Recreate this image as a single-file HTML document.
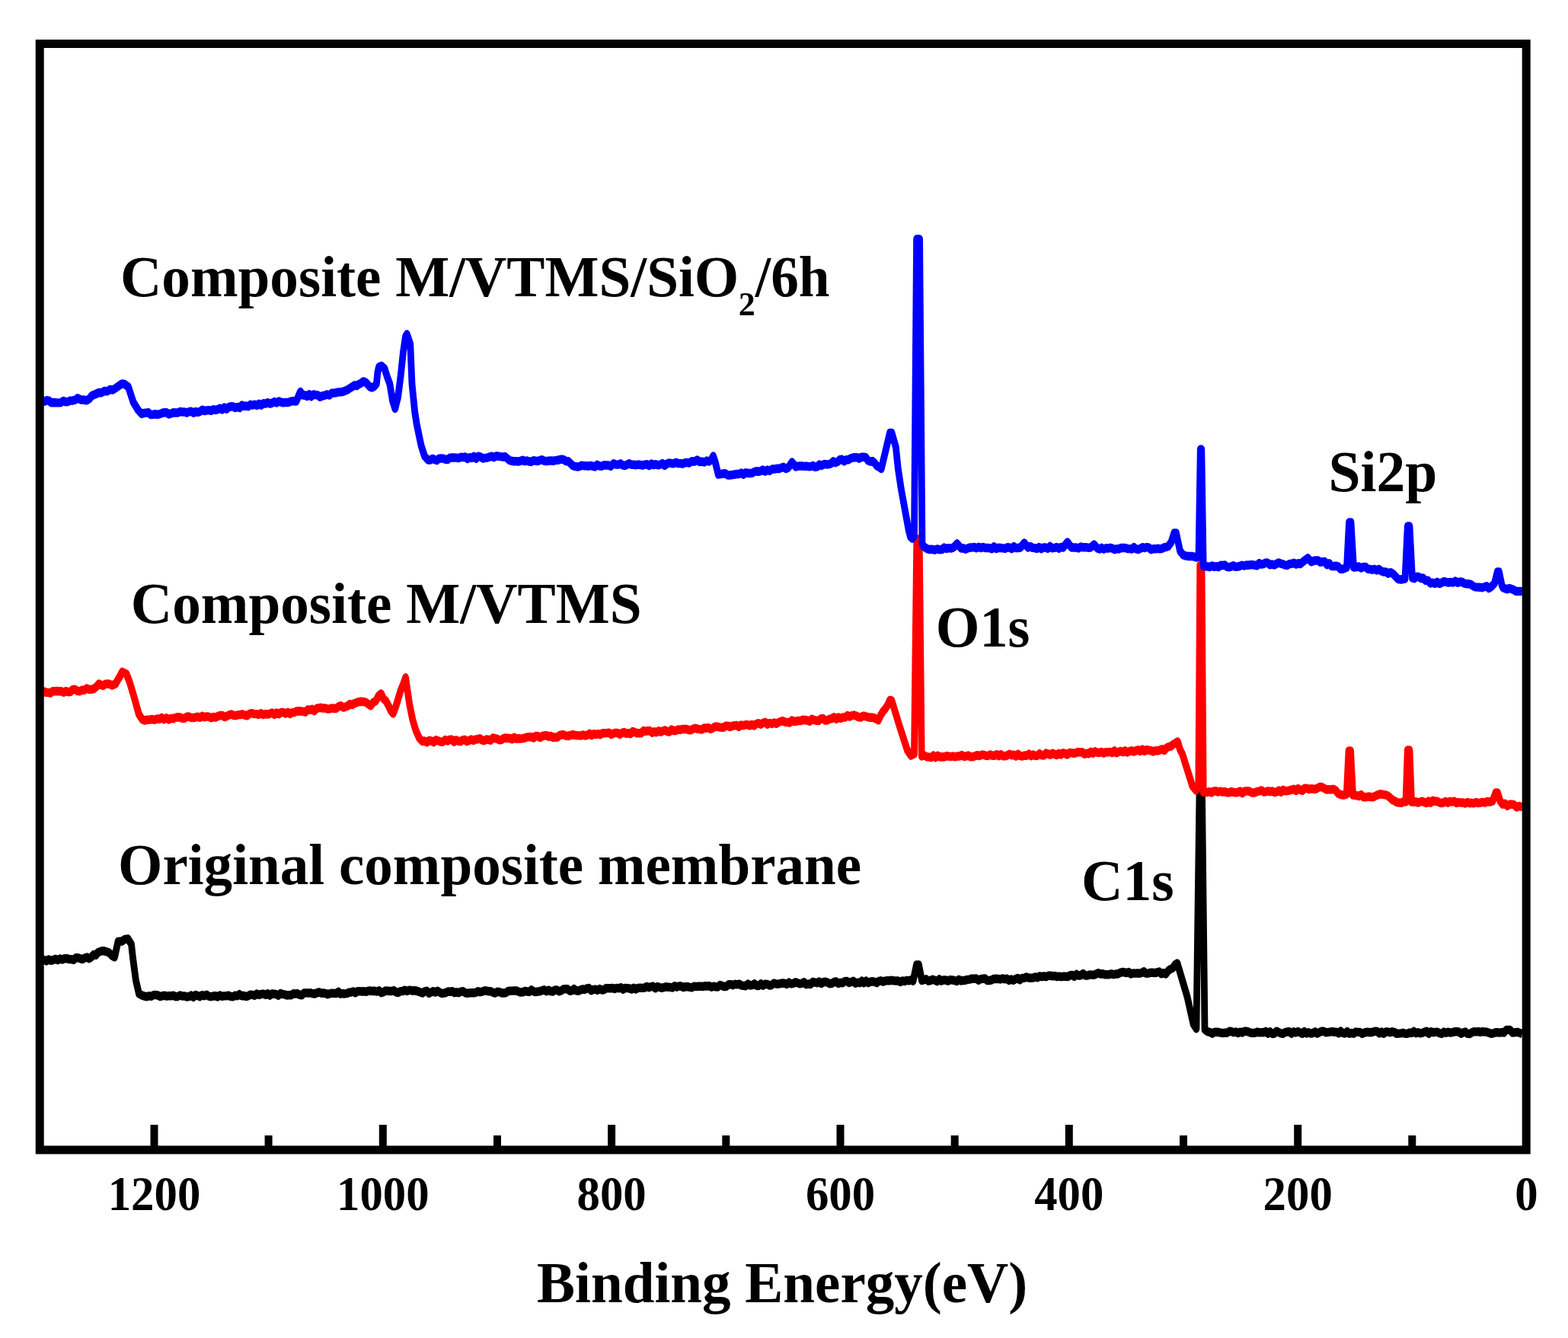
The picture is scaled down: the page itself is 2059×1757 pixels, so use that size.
<!DOCTYPE html>
<html><head><meta charset="utf-8"><title>XPS spectra</title><style>html,body{margin:0;padding:0;background:#fff;}svg{display:block;filter:blur(0.55px);}</style></head><body>
<svg width="2059" height="1757" viewBox="0 0 2059 1757">
<rect x="0" y="0" width="2059" height="1757" fill="#fff"/>
<path transform="scale(1,1.3)" d="M52.0,970.77 L55.0,970.18 L58.0,969.60 L60.9,970.78 L63.9,969.15 L66.9,970.23 L69.9,969.66 L72.8,968.73 L75.8,969.78 L78.8,968.42 L81.8,969.33 L84.8,968.25 L87.7,968.18 L90.7,968.93 L93.7,969.00 L96.6,969.61 L99.5,967.52 L102.5,967.53 L105.4,968.34 L108.3,968.93 L111.2,967.71 L114.2,966.99 L117.1,968.26 L120.0,966.77 L122.9,964.18 L125.8,964.90 L128.7,962.01 L131.6,961.15 L134.5,960.51 L137.4,960.73 L140.4,961.52 L143.3,962.31 L146.9,965.37 L150.5,966.77 L155.0,951.08 L160.0,950.77 L164.1,948.78 L168.2,948.46 L172.5,953.85 L174.5,967.69 L178.4,990.31 L182.5,1003.85 L186.2,1005.33 L190.0,1006.38 L192.9,1006.72 L195.8,1005.99 L198.7,1006.41 L201.6,1005.11 L204.5,1005.07 L207.4,1005.42 L210.3,1006.63 L213.2,1005.94 L216.1,1005.61 L219.0,1006.29 L221.9,1005.91 L224.8,1006.00 L227.7,1005.48 L230.6,1006.77 L233.5,1006.52 L236.4,1005.33 L239.4,1006.19 L242.3,1006.07 L245.2,1006.98 L248.1,1006.60 L251.0,1005.45 L253.9,1007.26 L256.8,1005.00 L259.7,1005.79 L262.6,1006.67 L265.5,1005.09 L268.4,1005.97 L271.4,1004.79 L274.3,1006.44 L277.2,1006.69 L280.1,1006.19 L283.0,1006.00 L285.9,1006.94 L288.7,1005.42 L291.6,1006.37 L294.4,1006.06 L297.3,1005.97 L300.1,1005.60 L303.0,1006.56 L305.9,1006.79 L308.7,1005.51 L311.6,1005.96 L314.4,1004.34 L317.3,1005.97 L320.1,1005.78 L323.0,1006.63 L325.8,1006.14 L328.7,1004.69 L331.6,1004.91 L334.4,1005.60 L337.3,1003.86 L340.1,1004.96 L343.0,1004.15 L345.8,1003.97 L348.7,1004.92 L351.5,1003.71 L354.3,1005.51 L357.1,1003.78 L359.9,1004.03 L362.8,1004.35 L365.6,1005.55 L368.4,1003.43 L371.2,1004.33 L374.0,1004.54 L376.8,1005.35 L379.6,1005.13 L382.4,1005.19 L385.3,1003.60 L388.1,1003.90 L390.9,1003.70 L393.7,1005.01 L396.5,1005.15 L399.3,1002.98 L402.1,1002.99 L404.9,1003.08 L407.8,1003.03 L410.6,1003.63 L413.4,1003.84 L416.2,1002.93 L419.0,1002.20 L421.8,1003.23 L424.6,1003.04 L427.4,1003.50 L430.3,1004.45 L433.1,1003.71 L435.9,1003.19 L438.7,1003.40 L441.5,1003.50 L444.3,1001.81 L447.1,1003.97 L449.9,1003.60 L452.7,1003.79 L455.6,1003.53 L458.4,1002.41 L461.2,1002.37 L464.0,1001.54 L466.8,1002.88 L469.6,1001.32 L472.4,1001.28 L475.2,1001.59 L478.1,1001.41 L480.9,1001.82 L483.7,1001.01 L486.5,1000.82 L489.3,1001.16 L492.1,1000.97 L494.9,1001.60 L497.7,1000.66 L500.6,1002.82 L503.4,1002.08 L506.2,1000.81 L509.0,1001.02 L511.8,1001.21 L514.6,1001.20 L517.4,1000.51 L520.2,1002.35 L523.1,1002.67 L525.9,1001.24 L528.7,1001.23 L531.5,1000.13 L534.3,1001.15 L537.7,1000.11 L541.1,1000.74 L544.6,1000.54 L548.0,1001.15 L552.0,1002.31 L554.8,1003.16 L557.6,1001.40 L560.4,1001.03 L563.2,1003.45 L566.0,1002.33 L568.8,1001.32 L571.6,1002.35 L574.4,1000.99 L577.2,1002.29 L580.0,1003.46 L582.8,1003.14 L585.6,1002.70 L588.4,1001.55 L591.2,1001.81 L594.0,1001.28 L596.8,1002.85 L599.6,1002.22 L602.4,1002.85 L605.3,1001.66 L608.1,1001.38 L610.9,1002.90 L613.7,1003.35 L616.5,1002.99 L619.3,1002.86 L622.1,1002.88 L624.9,1002.66 L627.7,1001.31 L630.5,1002.06 L633.3,1001.63 L636.1,1000.76 L638.9,1000.75 L641.7,1001.40 L644.5,1001.33 L647.3,1002.46 L650.1,1003.14 L652.9,1001.80 L655.7,1001.92 L658.5,1003.01 L661.3,1003.08 L664.1,1002.93 L666.9,1001.33 L669.7,1000.89 L672.5,1000.85 L675.3,1000.71 L678.1,1000.67 L680.9,1001.70 L683.7,1002.37 L686.5,1002.15 L689.3,1001.15 L692.1,1001.54 L694.9,1001.86 L697.7,999.93 L700.5,1001.38 L703.3,1001.97 L706.1,1001.58 L708.9,1001.43 L711.7,1000.66 L714.5,999.81 L717.3,1001.35 L720.1,1000.10 L722.9,1001.26 L725.7,1001.65 L728.5,1000.08 L731.3,1000.04 L734.1,1001.40 L736.9,1000.76 L739.7,999.25 L742.5,999.08 L745.3,999.08 L748.2,1000.99 L751.0,1000.67 L753.8,998.89 L756.6,1000.60 L759.4,1000.95 L762.2,1000.04 L765.0,999.18 L767.8,999.64 L770.6,998.48 L773.4,998.12 L776.2,1000.56 L779.0,999.66 L781.8,999.28 L784.6,1000.28 L787.4,998.91 L790.2,1000.00 L793.0,999.82 L795.8,998.15 L798.6,998.20 L801.4,998.24 L804.2,998.05 L807.0,998.89 L809.8,997.97 L812.6,998.33 L815.4,997.52 L818.2,999.49 L821.0,997.98 L823.8,998.19 L826.6,998.46 L829.4,999.24 L832.2,997.91 L835.0,999.15 L837.8,998.00 L840.6,997.94 L843.5,997.96 L846.3,997.88 L849.1,996.49 L852.0,997.53 L854.8,996.80 L857.6,996.27 L860.5,998.29 L863.3,996.58 L866.1,997.31 L868.9,997.91 L871.8,997.40 L874.6,996.74 L877.4,997.18 L880.3,997.21 L883.1,997.75 L885.9,995.91 L888.8,997.04 L891.6,996.16 L894.4,996.17 L897.3,997.41 L900.1,996.65 L902.9,996.73 L905.8,997.19 L908.6,997.53 L911.4,996.24 L914.2,996.62 L917.1,996.28 L919.9,996.23 L922.7,996.64 L925.6,995.95 L928.4,996.10 L931.2,995.89 L934.1,997.04 L936.9,996.35 L939.7,996.75 L942.6,996.86 L945.4,995.01 L948.2,995.73 L951.1,996.68 L953.9,996.34 L956.7,994.44 L959.5,994.34 L962.4,995.12 L965.2,994.09 L968.0,994.47 L970.9,993.97 L973.7,995.46 L976.5,995.70 L979.4,995.93 L982.2,993.93 L985.0,995.34 L987.9,995.13 L990.7,993.71 L993.5,995.59 L996.4,995.75 L999.2,993.73 L1002.0,995.58 L1004.8,994.07 L1007.7,994.24 L1010.5,995.49 L1013.3,995.02 L1016.2,993.20 L1019.0,993.85 L1021.8,994.00 L1024.7,993.48 L1027.5,993.04 L1030.3,993.30 L1033.2,994.30 L1036.0,992.40 L1038.8,993.73 L1041.7,993.37 L1044.5,992.21 L1047.3,992.96 L1050.1,993.67 L1053.0,993.31 L1055.8,992.08 L1058.6,994.43 L1061.5,993.85 L1064.3,994.27 L1067.1,991.94 L1070.0,992.30 L1072.8,992.85 L1075.6,991.60 L1078.4,993.49 L1081.2,992.12 L1084.0,991.71 L1086.8,992.44 L1089.6,993.68 L1092.4,993.39 L1095.2,991.89 L1098.0,991.56 L1100.8,993.53 L1103.6,992.58 L1106.5,992.88 L1109.3,991.24 L1112.1,991.11 L1114.9,992.72 L1117.7,991.99 L1120.5,991.03 L1123.3,993.25 L1126.1,992.42 L1128.9,992.81 L1131.7,990.90 L1134.5,992.88 L1137.3,990.77 L1140.1,992.81 L1142.9,991.70 L1145.7,991.36 L1148.5,991.88 L1151.3,992.81 L1154.1,991.05 L1156.9,990.65 L1159.7,991.64 L1162.5,990.85 L1165.3,990.47 L1168.2,990.57 L1171.0,990.23 L1173.8,990.59 L1176.6,990.84 L1179.4,990.78 L1182.2,991.92 L1185.0,990.66 L1187.8,991.16 L1190.6,990.28 L1193.4,990.68 L1196.2,989.78 L1199.0,991.00 L1203.5,974.62 L1206.5,974.62 L1210.5,990.38 L1213.4,989.70 L1216.2,989.06 L1219.1,990.90 L1221.9,990.40 L1224.8,989.42 L1227.7,990.14 L1230.5,991.31 L1233.4,989.11 L1236.2,990.95 L1239.1,989.91 L1242.0,990.04 L1244.8,990.90 L1247.7,989.71 L1250.6,989.98 L1253.4,990.43 L1256.3,991.17 L1259.1,989.46 L1262.0,990.71 L1264.9,990.35 L1267.7,990.14 L1270.6,989.50 L1273.4,989.33 L1276.3,988.53 L1279.2,988.70 L1282.0,988.51 L1284.9,990.23 L1287.7,988.93 L1290.6,988.66 L1293.5,988.43 L1296.3,990.38 L1299.2,990.42 L1302.1,989.87 L1304.9,988.82 L1307.8,988.69 L1310.6,988.79 L1313.5,989.20 L1316.4,988.38 L1319.2,989.10 L1322.1,988.59 L1324.9,990.39 L1327.8,989.15 L1330.7,990.25 L1333.5,989.00 L1336.4,988.08 L1339.3,989.83 L1342.1,987.98 L1345.0,987.96 L1347.8,986.90 L1350.7,987.76 L1353.6,987.86 L1356.4,987.80 L1359.3,986.87 L1362.2,987.53 L1365.0,986.09 L1367.9,986.63 L1370.8,986.04 L1373.6,986.71 L1376.5,985.64 L1379.4,985.46 L1382.2,986.06 L1385.1,985.73 L1387.9,986.52 L1390.8,986.24 L1393.7,986.68 L1396.5,986.30 L1399.4,986.32 L1402.3,986.61 L1405.1,985.19 L1408.0,984.89 L1410.9,986.47 L1413.7,984.15 L1416.6,985.52 L1419.5,985.17 L1422.3,983.47 L1425.2,985.40 L1428.0,985.42 L1430.9,984.59 L1433.8,984.73 L1436.6,984.80 L1439.5,983.85 L1442.3,982.85 L1445.2,983.80 L1448.0,983.69 L1450.9,984.50 L1453.7,984.37 L1456.6,984.37 L1459.4,983.68 L1462.3,984.43 L1465.1,983.83 L1468.0,983.80 L1470.8,982.54 L1473.7,981.96 L1476.5,982.17 L1479.3,982.71 L1482.2,981.99 L1485.0,983.85 L1487.9,983.07 L1490.7,983.19 L1493.6,983.13 L1496.4,983.22 L1499.3,982.66 L1502.1,981.34 L1505.0,983.36 L1507.8,983.18 L1510.7,982.48 L1513.5,982.51 L1516.4,982.78 L1519.2,982.31 L1522.2,981.56 L1525.1,983.70 L1528.0,982.81 L1531.0,983.85 L1534.0,980.58 L1537.0,978.93 L1540.0,977.98 L1543.0,974.46 L1546.0,973.08 L1559.0,1006.85 L1567.0,1034.38 L1571.0,1039.00 L1575.0,801.54 L1578.5,801.54 L1582.0,1040.00 L1585.5,1041.97 L1589.0,1042.69 L1591.8,1043.96 L1594.6,1042.72 L1597.5,1042.45 L1600.3,1042.72 L1603.1,1043.28 L1605.9,1043.52 L1608.7,1043.15 L1611.5,1043.23 L1614.4,1041.78 L1617.2,1041.98 L1620.0,1042.92 L1622.8,1042.28 L1625.6,1043.56 L1628.4,1042.41 L1631.2,1043.10 L1634.1,1041.65 L1636.9,1041.77 L1639.7,1042.32 L1642.5,1043.37 L1645.3,1043.43 L1648.1,1043.38 L1650.9,1042.38 L1653.8,1042.97 L1656.6,1042.83 L1659.4,1042.84 L1662.2,1041.93 L1665.0,1043.95 L1667.8,1042.14 L1670.6,1044.17 L1673.4,1044.06 L1676.2,1041.66 L1679.1,1042.82 L1681.9,1043.76 L1684.7,1044.15 L1687.5,1042.79 L1690.3,1042.32 L1693.1,1042.16 L1695.9,1044.09 L1698.8,1042.17 L1701.6,1043.14 L1704.4,1041.99 L1707.2,1042.99 L1710.0,1044.11 L1712.8,1041.96 L1715.6,1043.76 L1718.4,1042.95 L1721.2,1043.93 L1724.1,1043.45 L1726.9,1042.22 L1729.7,1043.96 L1732.5,1042.89 L1735.3,1041.68 L1738.1,1041.62 L1740.9,1042.90 L1743.8,1042.79 L1746.6,1042.41 L1749.4,1041.98 L1752.2,1042.51 L1755.0,1042.44 L1757.8,1043.81 L1760.6,1041.62 L1763.4,1043.58 L1766.2,1043.81 L1769.1,1041.93 L1771.9,1044.04 L1774.7,1043.48 L1777.5,1043.97 L1780.3,1042.37 L1783.1,1042.59 L1785.9,1042.64 L1788.8,1044.23 L1791.6,1043.16 L1794.4,1042.56 L1797.2,1042.73 L1800.0,1042.92 L1802.8,1042.34 L1805.6,1041.75 L1808.5,1041.89 L1811.3,1043.81 L1814.1,1042.37 L1816.9,1044.08 L1819.8,1042.28 L1822.6,1042.33 L1825.4,1042.97 L1828.2,1042.14 L1831.0,1042.62 L1833.9,1044.15 L1836.7,1043.96 L1839.5,1043.77 L1842.3,1043.30 L1845.2,1044.04 L1848.0,1044.12 L1850.8,1043.10 L1853.6,1043.54 L1856.5,1041.79 L1859.3,1043.58 L1862.1,1042.85 L1864.9,1043.64 L1867.7,1043.36 L1870.6,1042.43 L1873.4,1041.81 L1876.2,1044.11 L1879.0,1042.02 L1881.9,1042.92 L1884.7,1042.59 L1887.5,1042.47 L1890.3,1043.63 L1893.1,1044.25 L1896.0,1042.38 L1898.8,1043.42 L1901.6,1042.49 L1904.4,1043.16 L1907.3,1042.74 L1910.1,1042.15 L1912.9,1042.14 L1915.7,1042.26 L1918.5,1044.09 L1921.4,1043.02 L1924.2,1042.30 L1927.0,1044.10 L1929.8,1044.34 L1932.7,1042.91 L1935.5,1042.10 L1938.3,1042.24 L1941.1,1041.98 L1944.0,1042.64 L1946.8,1041.98 L1949.6,1042.37 L1952.4,1042.43 L1955.2,1043.24 L1958.1,1044.07 L1960.9,1043.72 L1963.7,1042.84 L1966.5,1042.84 L1969.4,1043.14 L1972.2,1042.75 L1975.0,1043.08 L1978.0,1040.31 L1983.0,1040.31 L1986.0,1043.08 L1989.2,1042.96 L1992.5,1042.55 L1995.8,1043.42 L1999.0,1044.31" fill="none" stroke="#000" stroke-width="8.8" stroke-linejoin="round" stroke-linecap="butt"/>
<path transform="scale(1,1.3)" d="M52.0,699.77 L54.9,700.86 L57.7,698.52 L60.6,699.37 L63.5,699.57 L66.3,700.05 L69.2,698.22 L72.1,698.23 L74.9,698.03 L77.8,698.30 L80.7,698.28 L83.5,699.48 L86.4,698.15 L89.5,698.91 L92.5,698.82 L95.6,696.44 L98.6,696.32 L101.7,697.93 L104.7,698.27 L107.8,697.01 L110.8,697.15 L113.9,695.46 L116.9,696.33 L120.0,696.46 L123.3,695.68 L126.7,693.52 L130.0,690.77 L132.8,691.96 L135.7,692.52 L138.5,690.88 L141.3,690.77 L144.2,691.15 L147.0,692.31 L151.7,690.77 L154.6,686.80 L157.5,683.19 L160.4,678.69 L166.0,680.77 L170.0,688.46 L176.0,703.85 L182.3,721.31 L186.5,726.54 L189.9,727.69 L193.2,727.12 L196.6,726.92 L200.0,726.54 L203.1,727.12 L206.2,726.20 L209.3,726.33 L212.4,724.87 L215.5,726.70 L218.6,725.15 L221.7,726.83 L224.8,725.62 L227.7,725.92 L230.6,724.95 L233.6,724.41 L236.5,724.66 L239.4,725.59 L242.3,725.67 L245.2,724.06 L248.2,723.88 L251.1,724.99 L254.0,725.06 L256.9,724.48 L259.8,723.97 L262.8,724.88 L265.7,723.26 L268.6,724.46 L271.5,723.79 L274.4,724.06 L277.3,725.22 L280.3,724.24 L283.2,724.72 L286.1,723.50 L289.0,722.73 L291.9,722.61 L294.8,724.33 L297.7,723.51 L300.6,722.32 L303.6,721.43 L306.5,722.52 L309.4,722.84 L312.3,722.23 L315.3,721.93 L318.4,721.40 L321.4,722.38 L324.4,722.96 L327.5,721.04 L330.5,720.44 L333.5,721.13 L336.6,721.25 L339.6,721.84 L342.6,720.48 L345.7,721.95 L348.7,721.08 L351.6,721.60 L354.5,720.88 L357.4,720.00 L360.4,721.90 L363.3,720.07 L366.2,721.30 L369.1,719.65 L372.0,719.53 L374.9,720.84 L377.9,719.51 L380.8,721.13 L383.7,719.85 L386.6,719.54 L389.5,718.43 L392.4,718.23 L395.4,718.44 L398.3,718.79 L401.2,719.24 L404.1,716.84 L407.0,717.19 L409.9,716.42 L412.8,718.11 L415.7,715.64 L418.7,715.10 L421.6,714.83 L424.5,715.40 L427.4,715.38 L430.3,716.20 L433.2,715.93 L436.2,715.30 L439.1,715.76 L442.0,715.36 L444.9,713.55 L447.8,712.95 L450.8,714.68 L453.7,713.95 L456.6,713.08 L459.5,711.11 L462.4,712.02 L465.3,710.53 L468.2,709.77 L471.1,708.92 L474.0,708.62 L477.2,708.81 L480.4,709.43 L483.6,711.21 L486.8,712.85 L490.2,709.44 L493.6,708.00 L497.1,702.80 L500.5,700.77 L503.6,705.98 L506.8,708.00 L509.9,712.39 L513.1,717.61 L516.2,720.77 L519.5,714.35 L522.8,706.07 L526.0,697.81 L529.3,691.65 L532.6,684.46 L537.7,711.23 L541.8,726.92 L545.9,737.54 L550.4,745.38 L554.5,748.85 L557.5,748.48 L560.5,749.87 L563.6,747.94 L566.6,748.35 L569.6,749.71 L572.6,747.41 L575.6,748.37 L578.6,749.38 L581.7,749.23 L584.7,747.30 L587.7,748.46 L590.5,747.16 L593.4,747.15 L596.2,749.30 L599.0,747.48 L601.9,748.68 L604.7,748.99 L607.5,747.44 L610.4,747.18 L613.2,748.89 L616.0,747.91 L618.9,746.90 L621.7,748.00 L624.5,746.87 L627.4,746.68 L630.2,745.88 L633.0,747.76 L635.9,748.10 L638.7,746.92 L641.5,747.17 L644.3,747.88 L647.2,745.37 L650.0,745.82 L652.8,746.35 L655.6,747.50 L658.5,747.39 L661.3,745.81 L664.1,745.35 L666.9,745.71 L669.7,745.78 L672.6,746.81 L675.4,744.76 L678.2,746.28 L681.0,746.01 L683.9,746.13 L686.7,745.89 L689.5,745.36 L692.3,744.52 L695.1,744.40 L698.0,744.41 L700.8,745.40 L703.6,743.46 L706.4,743.67 L709.3,745.02 L712.1,743.60 L714.9,743.02 L717.7,742.83 L720.5,744.09 L723.4,743.39 L726.2,745.00 L729.0,744.64 L731.8,744.81 L734.7,742.82 L737.5,742.25 L740.3,742.18 L743.1,743.12 L745.9,743.57 L748.8,742.78 L751.6,742.13 L754.4,742.50 L757.2,742.93 L760.1,742.97 L762.9,743.06 L765.7,742.31 L768.5,743.11 L771.4,742.53 L774.2,741.00 L777.0,742.78 L779.9,741.24 L782.7,741.85 L785.5,741.24 L788.4,742.09 L791.2,740.57 L794.0,740.59 L796.9,740.48 L799.7,740.14 L802.5,741.94 L805.4,741.04 L808.2,740.27 L811.0,740.35 L813.9,741.80 L816.7,740.43 L819.5,739.60 L822.4,741.01 L825.2,740.50 L828.0,741.27 L830.9,738.84 L833.7,739.71 L836.5,740.51 L839.4,740.46 L842.2,740.55 L845.0,738.15 L847.9,738.71 L850.7,738.15 L853.5,738.23 L856.4,740.17 L859.2,739.05 L862.0,739.85 L864.9,738.28 L867.7,739.47 L870.5,738.27 L873.4,737.67 L876.2,738.92 L879.0,739.26 L881.9,736.95 L884.7,738.13 L887.5,738.09 L890.4,736.93 L893.2,737.22 L896.0,736.52 L898.9,736.58 L901.7,736.61 L904.5,737.40 L907.4,737.43 L910.2,736.16 L913.0,735.55 L915.9,736.27 L918.7,736.62 L921.6,736.88 L924.4,735.39 L927.3,735.53 L930.2,735.04 L933.0,736.39 L935.9,735.55 L938.7,734.08 L941.6,733.98 L944.5,734.55 L947.3,734.76 L950.2,734.79 L953.0,733.16 L955.9,733.15 L958.8,734.34 L961.6,733.40 L964.5,732.87 L967.4,732.73 L970.2,734.22 L973.1,732.35 L976.0,732.82 L978.8,732.07 L981.7,732.03 L984.5,733.00 L987.4,731.85 L990.3,732.98 L993.2,731.15 L996.1,730.55 L999.1,731.77 L1002.0,730.22 L1004.9,729.54 L1007.8,731.71 L1010.7,730.29 L1013.6,731.16 L1016.5,729.91 L1019.5,730.99 L1022.4,729.71 L1025.3,728.76 L1028.2,728.21 L1031.1,729.44 L1034.0,729.51 L1037.0,730.04 L1039.9,727.73 L1042.8,728.95 L1045.7,728.46 L1048.6,727.98 L1051.5,728.18 L1054.4,727.09 L1057.4,727.30 L1060.3,727.77 L1063.2,728.68 L1066.1,726.40 L1069.0,727.25 L1071.9,727.92 L1074.8,728.20 L1077.7,726.03 L1080.7,725.70 L1083.6,727.69 L1086.5,727.62 L1089.4,726.23 L1092.3,725.85 L1095.2,724.39 L1098.2,726.33 L1101.1,724.58 L1104.0,725.60 L1106.9,724.51 L1109.8,724.71 L1112.8,722.63 L1115.7,723.93 L1118.6,722.85 L1121.5,722.35 L1124.4,723.06 L1127.3,724.44 L1130.2,724.63 L1133.2,723.17 L1136.1,723.49 L1139.0,724.20 L1141.9,724.74 L1144.8,724.62 L1147.7,725.15 L1153.5,727.38 L1156.5,722.38 L1159.5,718.69 L1162.5,715.93 L1165.5,712.36 L1168.5,707.31 L1171.0,707.69 L1181.0,733.00 L1191.4,757.69 L1196.0,763.23 L1200.5,761.54 L1203.8,544.62 L1207.2,544.62 L1210.2,763.85 L1213.6,762.99 L1217.0,764.54 L1219.9,764.66 L1222.7,765.13 L1225.6,763.22 L1228.5,765.27 L1231.4,763.35 L1234.2,764.57 L1237.1,764.40 L1240.0,764.56 L1242.8,763.69 L1245.7,763.94 L1248.6,764.33 L1251.5,763.88 L1254.3,764.45 L1257.2,763.86 L1260.1,763.80 L1262.9,762.68 L1265.8,764.20 L1268.7,763.82 L1271.6,763.12 L1274.4,764.46 L1277.3,764.46 L1280.2,763.58 L1283.0,762.82 L1285.9,763.55 L1288.8,762.55 L1291.7,762.57 L1294.5,763.32 L1297.4,763.46 L1300.2,762.34 L1303.0,763.20 L1305.9,763.32 L1308.7,762.04 L1311.5,763.55 L1314.3,762.04 L1317.1,763.69 L1320.0,763.75 L1322.8,763.00 L1325.6,761.75 L1328.4,762.87 L1331.2,762.49 L1334.1,763.93 L1336.9,761.75 L1339.7,763.58 L1342.5,763.89 L1345.3,763.14 L1348.1,763.30 L1351.0,761.62 L1353.8,763.63 L1356.6,762.29 L1359.4,763.45 L1362.2,763.29 L1365.1,761.28 L1367.9,762.85 L1370.7,763.17 L1373.5,760.85 L1376.3,761.54 L1379.2,762.55 L1382.0,760.93 L1384.8,761.77 L1387.6,762.72 L1390.4,761.01 L1393.2,762.34 L1396.0,760.49 L1398.8,761.35 L1401.6,762.35 L1404.4,760.41 L1407.2,760.46 L1410.0,761.01 L1412.8,760.44 L1415.6,759.61 L1418.4,759.91 L1421.2,759.77 L1424.1,761.71 L1426.9,760.95 L1429.7,761.43 L1432.5,759.44 L1435.3,760.97 L1438.1,759.13 L1440.9,760.13 L1443.7,760.32 L1446.5,759.51 L1449.3,760.77 L1452.1,759.85 L1454.9,759.83 L1457.7,759.54 L1460.5,760.44 L1463.4,758.32 L1466.2,760.55 L1469.0,759.50 L1471.9,758.79 L1474.7,759.75 L1477.5,758.27 L1480.4,760.07 L1483.2,758.89 L1486.0,758.23 L1488.9,759.20 L1491.7,758.26 L1494.5,757.47 L1497.4,758.86 L1500.2,756.95 L1503.0,758.87 L1505.9,757.30 L1508.7,757.85 L1511.6,758.24 L1514.5,759.18 L1517.4,758.17 L1520.3,758.41 L1523.2,757.52 L1526.1,756.74 L1529.0,758.08 L1531.9,755.37 L1534.8,754.19 L1537.7,753.92 L1540.6,751.95 L1543.5,750.67 L1546.4,749.15 L1549.6,757.14 L1552.8,762.09 L1556.0,770.00 L1565.8,793.85 L1570.5,798.23 L1573.8,795.38 L1575.8,570.77 L1578.0,570.77 L1580.2,800.00 L1585.0,800.38 L1587.9,799.67 L1590.8,800.79 L1593.8,799.14 L1596.7,799.08 L1599.6,800.01 L1602.5,799.36 L1605.4,800.01 L1608.3,799.66 L1611.2,800.60 L1614.2,800.62 L1617.1,799.61 L1620.0,800.38 L1622.8,800.65 L1625.6,800.20 L1628.5,799.26 L1631.3,801.30 L1634.1,799.43 L1636.9,799.12 L1639.7,798.92 L1642.6,800.28 L1645.4,800.84 L1648.2,800.55 L1651.0,799.49 L1653.8,799.08 L1656.7,798.36 L1659.5,799.96 L1662.3,799.68 L1665.1,799.07 L1668.0,799.78 L1670.8,799.20 L1673.6,800.43 L1676.4,799.84 L1679.2,798.52 L1682.1,800.17 L1684.9,797.87 L1687.7,799.00 L1690.5,798.89 L1693.3,798.37 L1696.2,797.74 L1699.0,797.09 L1701.8,798.78 L1704.6,796.59 L1707.4,797.80 L1710.3,798.64 L1713.1,796.36 L1715.9,796.32 L1718.7,797.20 L1721.5,796.74 L1724.4,796.90 L1727.2,797.16 L1730.0,796.15 L1733.2,794.84 L1736.3,795.23 L1742.0,797.69 L1745.0,797.39 L1748.0,797.55 L1751.0,797.09 L1754.0,798.46 L1757.3,801.60 L1760.6,802.69 L1764.4,803.24 L1768.3,802.31 L1771.0,758.46 L1773.6,758.46 L1776.5,803.08 L1781.0,803.46 L1784.2,804.28 L1787.3,802.68 L1790.5,805.13 L1793.7,805.13 L1796.8,804.65 L1800.0,805.00 L1803.2,805.14 L1806.4,803.89 L1809.6,802.81 L1812.8,802.00 L1816.0,802.54 L1819.1,803.01 L1822.1,803.68 L1825.2,805.64 L1828.2,807.89 L1831.3,808.93 L1834.3,810.50 L1837.4,810.77 L1840.3,811.07 L1843.1,809.64 L1846.0,810.00 L1848.3,757.69 L1851.0,757.69 L1853.5,810.00 L1856.3,810.14 L1859.1,809.83 L1861.9,810.75 L1864.7,810.06 L1867.5,809.39 L1870.3,810.37 L1873.1,811.22 L1875.9,809.26 L1878.7,810.99 L1881.6,808.73 L1884.4,809.37 L1887.2,809.31 L1890.0,810.64 L1892.8,811.16 L1895.6,810.64 L1898.4,809.55 L1901.2,810.99 L1904.0,809.55 L1906.8,810.00 L1909.7,809.37 L1912.5,811.17 L1915.4,810.50 L1918.2,810.71 L1921.1,810.69 L1923.9,811.56 L1926.8,810.28 L1929.6,811.30 L1932.5,810.98 L1935.3,811.45 L1938.2,810.40 L1941.0,811.20 L1943.9,810.85 L1946.7,810.22 L1949.6,810.77 L1953.1,809.50 L1956.5,810.06 L1960.0,809.23 L1964.0,800.77 L1966.5,800.77 L1970.0,809.23 L1973.0,812.46 L1976.1,811.67 L1979.2,814.15 L1982.3,812.46 L1985.3,812.45 L1988.4,812.97 L1991.5,815.43 L1994.6,814.21 L1997.7,814.92 L1999.0,815.08" fill="none" stroke="#f00" stroke-width="8.8" stroke-linejoin="round" stroke-linecap="butt"/>
<path transform="scale(1,1.3)" d="M52.0,405.38 L55.4,404.45 L58.7,405.38 L61.5,404.44 L64.3,404.76 L67.2,406.75 L70.0,406.54 L73.3,406.78 L76.6,406.84 L79.8,406.83 L83.1,404.97 L86.4,406.00 L89.3,405.78 L92.1,404.72 L95.0,404.62 L98.5,404.18 L102.0,402.08 L106.0,403.80 L110.0,403.85 L113.5,404.48 L117.0,403.08 L120.8,399.63 L124.6,398.46 L130.0,396.54 L133.3,396.73 L136.7,395.00 L140.7,395.31 L144.7,393.46 L148.3,393.85 L152.0,391.92 L157.0,389.23 L160.3,387.63 L163.6,388.08 L168.5,390.77 L175.0,406.15 L181.0,413.85 L186.0,418.08 L189.0,417.28 L192.0,417.00 L195.0,416.77 L197.9,418.87 L200.9,418.75 L203.9,418.25 L206.9,418.72 L209.9,418.18 L212.9,417.25 L215.8,416.73 L218.8,416.70 L221.8,418.39 L224.8,417.69 L227.7,416.74 L230.6,416.86 L233.6,416.95 L236.5,415.72 L239.4,416.16 L242.3,416.05 L245.2,417.00 L248.2,415.91 L251.1,415.61 L254.0,417.11 L256.9,415.73 L259.8,416.46 L262.8,415.67 L265.7,413.95 L268.6,415.00 L271.5,414.51 L274.4,414.31 L277.3,414.93 L280.2,413.55 L283.1,414.23 L286.0,413.53 L288.9,412.43 L291.7,413.86 L294.6,411.58 L297.5,413.22 L300.4,411.26 L303.3,410.56 L306.2,410.82 L309.1,412.02 L312.0,411.08 L314.8,412.07 L317.6,409.26 L320.5,410.27 L323.3,410.01 L326.1,410.55 L328.9,408.69 L331.8,409.24 L334.6,408.59 L337.4,409.60 L340.2,407.85 L343.1,409.37 L345.9,407.39 L348.7,407.69 L351.6,406.73 L354.5,407.77 L357.4,407.03 L360.3,405.79 L363.2,406.95 L366.1,405.28 L369.0,406.15 L371.9,406.80 L374.7,406.45 L377.6,406.57 L380.4,406.05 L383.3,405.23 L386.1,405.24 L389.0,405.38 L392.0,400.00 L394.5,395.77 L397.5,399.23 L400.3,399.04 L403.2,400.42 L406.0,398.40 L408.8,400.59 L411.7,398.42 L414.5,398.97 L417.3,399.21 L420.2,400.96 L423.0,400.00 L426.2,399.43 L429.3,398.53 L432.5,399.27 L435.7,397.00 L438.8,397.01 L442.0,396.54 L444.9,396.05 L447.8,396.07 L450.8,395.49 L453.7,394.64 L456.6,393.69 L459.5,392.10 L462.4,390.84 L465.3,389.20 L468.3,389.80 L471.2,388.13 L474.1,387.14 L477.0,385.31 L479.9,386.00 L482.8,388.26 L485.6,390.70 L488.5,391.54 L492.0,390.00 L494.4,387.69 L495.9,376.15 L497.5,370.77 L501.0,369.62 L505.0,372.31 L508.5,380.77 L511.8,387.69 L515.5,404.62 L518.8,412.69 L522.5,401.54 L526.0,380.77 L529.5,355.38 L532.5,340.00 L534.3,337.69 L536.5,342.31 L538.8,347.69 L541.0,387.69 L544.7,416.15 L547.2,428.46 L553.0,450.00 L557.5,460.77 L562.0,464.62 L564.9,464.69 L567.7,463.37 L570.6,464.12 L573.5,465.09 L576.4,463.26 L579.2,463.01 L582.1,463.16 L585.0,464.08 L587.9,464.31 L590.7,462.38 L593.6,462.25 L596.5,462.35 L599.4,462.42 L602.2,462.80 L605.1,461.72 L608.0,462.03 L610.9,461.53 L613.7,463.45 L616.6,462.08 L619.5,462.64 L622.4,460.96 L625.3,463.18 L628.3,460.89 L631.2,461.59 L634.1,463.13 L637.0,462.60 L639.9,462.40 L642.8,461.58 L645.7,460.92 L648.6,462.04 L651.6,460.62 L654.5,460.84 L657.4,461.28 L660.3,461.54 L663.2,461.21 L666.1,463.06 L669.0,464.98 L671.9,465.61 L674.8,466.00 L677.7,465.93 L680.5,466.20 L683.4,465.68 L686.2,464.77 L689.1,465.90 L691.9,465.31 L694.8,466.12 L697.6,466.48 L700.5,465.15 L703.3,465.46 L706.2,465.84 L709.0,464.91 L711.9,464.33 L714.7,465.55 L717.6,465.89 L720.4,465.54 L723.3,465.27 L726.1,465.60 L729.0,465.07 L731.8,464.90 L734.7,464.33 L737.5,463.89 L740.4,464.31 L743.3,465.98 L746.2,465.93 L749.2,468.11 L752.1,470.40 L755.0,471.00 L757.9,471.49 L760.8,471.21 L763.7,470.15 L766.7,470.53 L769.6,470.55 L772.5,470.92 L775.4,470.30 L778.3,470.92 L781.2,471.53 L784.1,469.50 L787.0,470.67 L790.0,470.93 L792.9,469.84 L795.8,470.04 L798.7,470.00 L802.1,470.98 L805.6,468.28 L809.0,469.23 L811.9,469.34 L814.8,468.34 L817.7,469.97 L820.6,470.38 L823.5,469.28 L826.4,468.19 L829.3,469.43 L832.2,469.34 L835.1,469.80 L838.0,469.26 L840.9,469.59 L843.8,470.09 L846.7,469.29 L849.6,469.00 L852.5,470.40 L855.4,468.47 L858.3,469.71 L861.2,468.95 L864.1,469.92 L867.0,469.23 L869.9,468.12 L872.8,470.26 L875.8,468.50 L878.7,467.60 L881.6,468.05 L884.5,468.26 L887.5,467.13 L890.4,468.07 L893.3,467.96 L896.2,468.57 L899.2,467.54 L902.1,467.20 L905.0,467.69 L908.5,465.95 L912.0,466.27 L915.5,464.62 L918.7,466.54 L921.8,466.22 L925.0,466.92 L928.0,465.42 L931.0,466.17 L934.0,464.62 L936.6,460.77 L939.0,466.15 L943.2,479.23 L946.3,478.95 L949.4,478.48 L952.5,478.26 L955.7,479.95 L958.8,480.04 L961.9,479.58 L965.0,479.23 L967.8,478.87 L970.6,478.84 L973.4,477.69 L976.2,479.34 L979.0,477.47 L981.8,477.94 L984.6,478.13 L987.4,477.85 L990.2,476.67 L993.0,475.94 L995.8,476.32 L998.6,475.92 L1001.6,474.66 L1004.7,476.23 L1007.7,474.70 L1010.7,475.71 L1013.8,473.90 L1016.8,473.91 L1019.8,473.30 L1022.9,473.47 L1025.9,472.56 L1028.9,471.80 L1032.0,473.40 L1035.0,472.54 L1040.0,466.92 L1045.0,471.54 L1047.8,470.86 L1050.6,470.67 L1053.4,470.71 L1056.2,471.07 L1059.0,470.84 L1061.8,471.28 L1064.7,471.24 L1067.5,470.36 L1070.3,471.74 L1073.1,471.44 L1075.9,469.25 L1078.7,470.31 L1082.8,468.77 L1085.6,469.19 L1088.5,468.95 L1091.3,468.20 L1094.2,466.07 L1097.0,467.44 L1099.8,466.49 L1102.7,464.43 L1105.5,463.98 L1108.4,466.00 L1111.2,464.38 L1114.0,464.47 L1116.9,463.08 L1119.8,462.36 L1122.6,462.14 L1125.5,462.05 L1128.3,463.15 L1131.2,461.69 L1134.0,461.77 L1137.0,462.09 L1139.9,465.29 L1142.9,466.22 L1145.8,465.82 L1148.8,467.92 L1151.6,470.79 L1154.5,471.90 L1157.3,473.46 L1168.5,437.31 L1171.0,437.31 L1176.4,451.77 L1179.2,472.77 L1183.3,493.85 L1188.3,514.85 L1193.3,535.85 L1195.5,542.31 L1198.0,543.85 L1200.5,541.54 L1203.6,241.54 L1207.6,241.54 L1211.0,550.77 L1217.0,554.23 L1220.4,555.06 L1223.8,554.86 L1227.3,555.55 L1230.7,554.62 L1233.7,555.15 L1236.8,555.06 L1239.8,553.16 L1242.9,554.24 L1245.9,553.60 L1249.0,553.93 L1252.0,553.08 L1256.8,549.23 L1262.0,553.85 L1264.9,553.66 L1267.8,554.79 L1270.7,553.90 L1273.6,553.12 L1276.4,553.01 L1279.3,552.73 L1282.2,553.63 L1285.1,552.46 L1288.0,553.50 L1290.9,552.63 L1293.8,553.51 L1296.7,553.50 L1299.6,553.58 L1302.4,554.40 L1305.3,552.13 L1308.2,554.28 L1311.1,553.28 L1314.0,553.50 L1316.9,553.74 L1319.8,554.17 L1322.7,552.92 L1325.6,553.01 L1328.4,554.40 L1331.3,552.05 L1334.2,553.49 L1337.1,553.46 L1340.0,553.08 L1345.0,548.46 L1350.0,553.08 L1352.9,551.84 L1355.8,553.36 L1358.6,553.55 L1361.5,554.21 L1364.4,552.63 L1367.2,554.34 L1370.1,553.10 L1373.0,553.04 L1375.9,554.12 L1378.8,551.86 L1381.6,553.65 L1384.5,553.40 L1387.4,552.65 L1390.2,554.02 L1393.1,552.73 L1396.0,553.08 L1401.7,547.69 L1407.0,553.08 L1410.1,553.01 L1413.2,553.14 L1416.4,553.78 L1419.5,552.32 L1422.6,552.91 L1425.8,552.87 L1428.9,553.22 L1432.0,553.08 L1436.7,550.00 L1441.0,553.85 L1443.8,554.71 L1446.6,553.32 L1449.5,554.73 L1452.3,553.63 L1455.1,553.90 L1457.9,553.30 L1460.8,553.92 L1463.6,555.15 L1466.4,554.32 L1469.2,554.69 L1472.0,553.49 L1474.9,553.47 L1477.7,553.43 L1480.5,554.19 L1483.3,554.32 L1486.1,554.72 L1489.0,552.78 L1491.8,554.58 L1494.6,555.01 L1497.4,554.13 L1500.2,552.84 L1503.1,553.51 L1505.9,552.74 L1508.7,553.23 L1511.5,555.15 L1514.4,554.34 L1517.2,554.48 L1520.0,554.08 L1522.8,554.40 L1525.6,554.29 L1528.4,553.08 L1531.2,552.66 L1534.0,551.92 L1538.0,547.69 L1541.8,538.46 L1544.5,538.46 L1549.6,556.69 L1554.0,560.77 L1557.0,561.39 L1560.0,561.86 L1563.0,561.89 L1566.0,561.92 L1571.0,563.08 L1574.0,562.31 L1576.3,453.85 L1577.8,453.85 L1580.2,571.92 L1586.0,572.31 L1588.8,572.74 L1591.6,571.47 L1594.4,572.61 L1597.2,572.02 L1600.1,572.77 L1602.9,570.99 L1605.7,571.16 L1608.5,570.73 L1611.3,572.62 L1614.1,572.94 L1616.9,572.22 L1619.7,571.42 L1622.6,572.56 L1625.4,572.42 L1628.2,571.79 L1631.0,570.95 L1633.8,571.54 L1636.6,570.82 L1639.4,570.92 L1642.2,570.45 L1645.0,570.54 L1647.8,570.88 L1650.6,571.44 L1653.4,568.94 L1656.2,570.07 L1659.0,569.69 L1661.9,568.49 L1664.7,568.70 L1667.6,570.50 L1670.5,569.89 L1673.3,570.79 L1676.2,569.55 L1679.1,568.42 L1681.9,569.40 L1684.8,569.93 L1687.6,570.84 L1690.5,570.95 L1693.4,569.63 L1696.2,569.46 L1699.1,568.65 L1702.0,570.07 L1704.8,568.94 L1707.7,569.69 L1713.0,566.15 L1717.4,563.77 L1722.0,567.46 L1725.0,566.55 L1727.9,566.19 L1730.9,566.17 L1733.8,567.94 L1736.8,567.46 L1739.7,567.36 L1742.6,570.47 L1745.6,569.06 L1748.5,572.00 L1751.4,571.92 L1754.3,571.70 L1757.2,572.16 L1760.1,574.75 L1763.0,574.92 L1768.5,573.08 L1771.5,527.69 L1774.0,527.69 L1777.5,573.08 L1781.5,572.69 L1784.4,572.30 L1787.3,573.86 L1790.2,572.71 L1793.2,572.63 L1796.1,574.80 L1799.0,574.92 L1801.9,575.57 L1804.8,574.92 L1807.8,576.08 L1810.8,574.95 L1813.9,576.93 L1816.9,577.70 L1819.9,577.61 L1823.0,579.40 L1826.0,578.18 L1829.0,579.38 L1832.6,582.31 L1836.0,585.06 L1839.4,585.38 L1845.0,584.62 L1848.3,531.54 L1851.0,531.54 L1854.5,583.85 L1857.3,584.41 L1860.1,582.57 L1863.0,582.58 L1865.8,584.24 L1868.6,583.85 L1871.8,586.45 L1875.1,586.29 L1878.3,589.15 L1881.3,588.55 L1884.3,589.53 L1887.2,587.94 L1890.2,589.65 L1893.2,588.56 L1896.2,587.33 L1899.1,588.02 L1902.1,588.45 L1905.1,587.98 L1908.1,588.49 L1911.0,586.99 L1914.0,588.58 L1917.0,587.69 L1919.9,587.93 L1922.8,589.26 L1925.7,589.81 L1928.6,589.85 L1931.5,590.36 L1934.4,591.99 L1937.3,593.00 L1940.2,593.18 L1943.1,593.20 L1946.0,593.62 L1949.0,592.88 L1952.0,592.08 L1955.0,594.28 L1958.0,592.85 L1962.5,589.23 L1966.2,577.69 L1968.5,577.69 L1972.0,590.77 L1973.5,593.62 L1976.4,594.51 L1979.2,595.20 L1982.1,594.27 L1985.0,595.08 L1987.8,595.82 L1990.6,597.25 L1993.4,597.33 L1996.2,597.19 L1999.0,597.38" fill="none" stroke="#00f" stroke-width="8.8" stroke-linejoin="round" stroke-linecap="butt"/>
<rect x="52.2" y="57.5" width="1952" height="1452.5" fill="none" stroke="#000" stroke-width="11"/>
<rect x="1849.3" y="1491" width="10" height="14" fill="#000"/>
<rect x="1699.2" y="1477" width="10" height="28" fill="#000"/>
<rect x="1549.0" y="1491" width="10" height="14" fill="#000"/>
<rect x="1398.8" y="1477" width="10" height="28" fill="#000"/>
<rect x="1248.7" y="1491" width="10" height="14" fill="#000"/>
<rect x="1098.5" y="1477" width="10" height="28" fill="#000"/>
<rect x="948.3" y="1491" width="10" height="14" fill="#000"/>
<rect x="798.1" y="1477" width="10" height="28" fill="#000"/>
<rect x="648.0" y="1491" width="10" height="14" fill="#000"/>
<rect x="497.8" y="1477" width="10" height="28" fill="#000"/>
<rect x="347.6" y="1491" width="10" height="14" fill="#000"/>
<rect x="197.5" y="1477" width="10" height="28" fill="#000"/>
<g font-family="Liberation Serif, serif" font-weight="bold" font-size="64" fill="#000"><text transform="translate(2004.5,1589) scale(0.95,1)" text-anchor="middle">0</text><text transform="translate(1704.2,1589) scale(0.95,1)" text-anchor="middle">200</text><text transform="translate(1403.8,1589) scale(0.95,1)" text-anchor="middle">400</text><text transform="translate(1103.5,1589) scale(0.95,1)" text-anchor="middle">600</text><text transform="translate(803.1,1589) scale(0.95,1)" text-anchor="middle">800</text><text transform="translate(502.8,1589) scale(0.95,1)" text-anchor="middle">1000</text><text transform="translate(202.5,1589) scale(0.95,1)" text-anchor="middle">1200</text></g>
<text font-family="Liberation Serif, serif" font-weight="bold" fill="#000" font-size="75.5"  transform="translate(158,389) scale(0.996,1)">Composite M/VTMS/SiO</text>
<text font-family="Liberation Serif, serif" font-weight="bold" fill="#000" font-size="44" x="969.8" y="413.5">2</text>
<text font-family="Liberation Serif, serif" font-weight="bold" fill="#000" font-size="75.5"  transform="translate(991.8,389) scale(0.97,1)">/6h</text>
<text font-family="Liberation Serif, serif" font-weight="bold" fill="#000" font-size="75.5"  transform="translate(171.8,818.2) scale(0.9966,1)">Composite M/VTMS</text>
<text font-family="Liberation Serif, serif" font-weight="bold" fill="#000" font-size="75.5"  transform="translate(155,1160.5) scale(0.9948,1)">Original composite membrane</text>
<text font-family="Liberation Serif, serif" font-weight="bold" fill="#000" font-size="75.5"  transform="translate(1228.7,849) scale(0.983,1)">O1s</text>
<text font-family="Liberation Serif, serif" font-weight="bold" fill="#000" font-size="75.5"  transform="translate(1419.9,1181.7) scale(1,1)">C1s</text>
<text font-family="Liberation Serif, serif" font-weight="bold" fill="#000" font-size="75.5"  transform="translate(1744.5,644.7) scale(1,1)">Si2p</text>
<text font-family="Liberation Serif, serif" font-weight="bold" fill="#000" font-size="75.5"  transform="translate(705,1710) scale(0.9944,1)">Binding Energy(eV)</text>
</svg>
</body></html>
